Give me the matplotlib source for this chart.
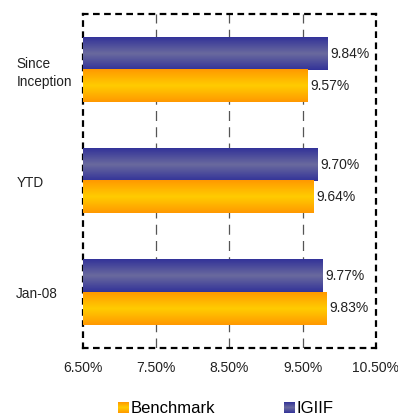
import numpy as np
import matplotlib.pyplot as plt
from matplotlib.colors import LinearSegmentedColormap

plt.rcParams['font.family'] = ['Liberation Sans', 'DejaVu Sans']

categories = ["Jan-08", "YTD", "Since\nInception"]
igiif = [9.77, 9.70, 9.84]
benchmark = [9.83, 9.64, 9.57]
ticks = [6.5, 7.5, 8.5, 9.5, 10.5]

cmap_blue = LinearSegmentedColormap.from_list("b", ["#333399", "#6a6a9e", "#333399"])
cmap_gold = LinearSegmentedColormap.from_list("g", ["#ff9900", "#ffcc00", "#ff9900"])
grad = np.linspace(0, 1, 64).reshape(-1, 1)

fig = plt.figure(figsize=(3.98, 4.15), dpi=100)
ax = fig.add_axes([0.2085, 0.1614, 0.7362, 0.8048])

h = 0.29
x0 = ticks[0]
for i, cat in enumerate(categories):
    c = i + 0.5
    # IGIIF above, Benchmark below
    ax.imshow(grad, cmap=cmap_blue, aspect="auto", extent=[x0, igiif[i], c, c + h], zorder=3)
    ax.imshow(grad, cmap=cmap_gold, aspect="auto", extent=[x0, benchmark[i], c - h, c], zorder=3)
    ax.text(igiif[i] + 0.04, c + h / 2, "%.2f%%" % igiif[i], va="center", ha="left", fontsize=10, color="#222222")
    ax.text(benchmark[i] + 0.04, c - h / 2, "%.2f%%" % benchmark[i], va="center", ha="left", fontsize=10, color="#222222")

ax.set_xlim(ticks[0], ticks[-1])
ax.set_ylim(0, 3)
ax.set_xticks(ticks)
ax.set_xticklabels(["%.2f%%" % t for t in ticks], fontsize=10, color="#222222")
ax.set_yticks([0.5, 1.5, 2.5])
ax.set_yticklabels(categories, fontsize=9.8, ha="left", linespacing=1.35, color="#222222")
ax.tick_params(axis="y", length=0, pad=48)
ax.tick_params(axis="x", length=0, pad=9)

for t in ticks[1:-1]:
    ax.axvline(t, color="#555555", lw=0.9, ls=(0, (8, 5)), zorder=1)
for s in ax.spines.values():
    s.set_linestyle((0, (2, 3)))
    s.set_linewidth(1.6)
    s.set_color("black")

# legend
lax = fig.add_axes([0, 0, 1, 0.06])
lax.axis("off")
lax.imshow(grad, cmap=cmap_gold, aspect="auto", extent=[118, 129, 2, 13])
lax.imshow(grad, cmap=cmap_blue, aspect="auto", extent=[284, 295, 2, 13])
lax.set_xlim(0, 398)
lax.set_ylim(0, 25)
lax.text(131, 7, "Benchmark", fontsize=12, va="center", ha="left")
lax.text(297, 7, "IGIIF", fontsize=12, va="center", ha="left")

fig.savefig("out.png", dpi=100)
